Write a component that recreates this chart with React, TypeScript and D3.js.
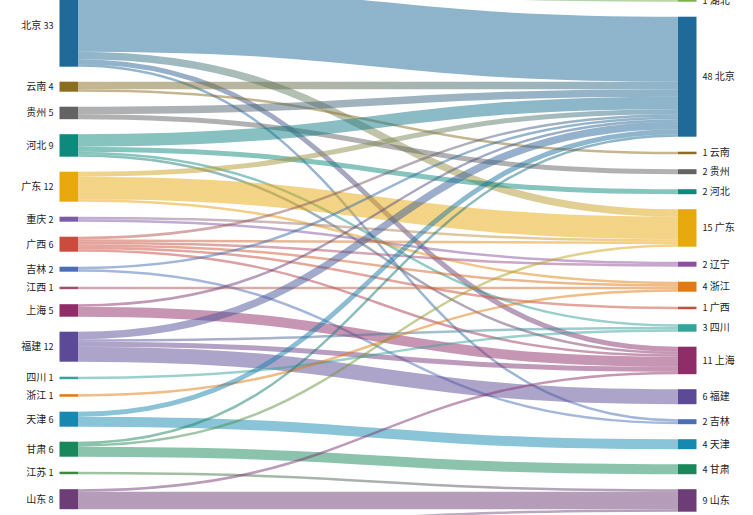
import React from 'react';
import * as d3 from 'd3';

// Left (source) column, top to bottom
const leftNodes = ['北京', '云南', '贵州', '河北', '广东', '重庆', '广西', '吉林', '江西', '上海', '福建', '四川', '浙江', '天津', '甘肃', '江苏', '山东', '河南'];
// Right (target) column, top to bottom
const rightNodes = ['湖北', '北京', '云南', '贵州', '河北', '广东', '辽宁', '浙江', '广西', '四川', '上海', '福建', '吉林', '天津', '甘肃', '山东'];

// Flows: [source, target, value]
const flows: [string, string, number][] = [
  ['北京', '湖北', 1], ['北京', '北京', 26], ['北京', '广东', 3], ['北京', '上海', 2], ['北京', '吉林', 1],
  ['云南', '北京', 3], ['云南', '云南', 1],
  ['贵州', '北京', 3], ['贵州', '贵州', 2],
  ['河北', '北京', 5], ['河北', '河北', 2], ['河北', '四川', 1], ['河北', '上海', 1],
  ['广东', '北京', 2], ['广东', '广东', 9], ['广东', '浙江', 1],
  ['重庆', '广东', 1], ['重庆', '辽宁', 1],
  ['广西', '北京', 1], ['广西', '广东', 1], ['广西', '辽宁', 1], ['广西', '浙江', 1], ['广西', '广西', 1], ['广西', '上海', 1],
  ['吉林', '北京', 1], ['吉林', '吉林', 1],
  ['江西', '浙江', 1],
  ['上海', '北京', 1], ['上海', '上海', 4],
  ['福建', '北京', 3], ['福建', '四川', 1], ['福建', '上海', 2], ['福建', '福建', 6],
  ['四川', '四川', 1],
  ['浙江', '浙江', 1],
  ['天津', '北京', 2], ['天津', '天津', 4],
  ['甘肃', '北京', 1], ['甘肃', '广东', 1], ['甘肃', '甘肃', 4],
  ['江苏', '山东', 1],
  ['山东', '上海', 1], ['山东', '山东', 7],
  ['河南', '山东', 1],
];

const provinceColors: Record<string, string> = {
  '北京': '#1f6a98', '云南': '#8c6d1f', '贵州': '#636363', '河北': '#0e8a7d', '广东': '#e8a90e',
  '重庆': '#7c5ba6', '广西': '#c94c3c', '吉林': '#4a6fb5', '江西': '#9e4f6b', '上海': '#8f2d68',
  '福建': '#5c4a96', '四川': '#36a39b', '浙江': '#e07a10', '天津': '#1689b0', '甘肃': '#18875a',
  '江苏': '#3b8a3e', '山东': '#6c3d76', '湖北': '#78b04a', '辽宁': '#8d4f9f', '河南': '#8a8a9a',
};

const W = 753;
const H = 515;
const nodeWidth = 18.5;
const nodePadding = 15;
const ky = 2.5;
const leftX = 59.5;
const rightX = 678;
const leftTop = -15.8;
const rightTop = -0.8;

type N = { name: string; side: 'L' | 'R'; value: number; x0: number; x1: number; y0: number; y1: number };

function layoutColumn(names: string[], side: 'L' | 'R', top: number, x0: number): N[] {
  let y = top;
  return names.map((name) => {
    const value = d3.sum(flows.filter((f) => (side === 'L' ? f[0] : f[1]) === name), (f) => f[2]);
    const n: N = { name, side, value, x0, x1: x0 + nodeWidth, y0: y, y1: y + value * ky };
    y = n.y1 + nodePadding;
    return n;
  });
}

export default function App() {
  const L = layoutColumn(leftNodes, 'L', leftTop, leftX);
  const R = layoutColumn(rightNodes, 'R', rightTop, rightX);
  const lIdx = new Map(L.map((n, i) => [n.name, i]));
  const rIdx = new Map(R.map((n, i) => [n.name, i]));

  const links = flows.map(([s, t, v], i) => ({ i, s: L[lIdx.get(s)!], t: R[rIdx.get(t)!], v, w: v * ky, sy: 0, ty: 0 }));
  // source offsets sorted by target position
  L.forEach((n) => {
    let y = n.y0;
    links.filter((l) => l.s === n).sort((a, b) => a.t.y0 - b.t.y0).forEach((l) => { l.sy = y + l.w / 2; y += l.w; });
  });
  R.forEach((n) => {
    let y = n.y0;
    links.filter((l) => l.t === n).sort((a, b) => a.s.y0 - b.s.y0).forEach((l) => { l.ty = y + l.w / 2; y += l.w; });
  });

  const linkGen = d3.linkHorizontal<any, [number, number]>().source((d: any) => d.source).target((d: any) => d.target);
  const font = '"Noto Sans CJK SC", "Noto Sans", sans-serif';
  const visible = (n: N) => n.y0 < H;

  return (
    <svg width={W} height={H} style={{ position: 'absolute', left: 0, top: 0, background: '#fff' }}>
      <defs>
        {links.map((l) => (
          <linearGradient key={l.i} id={`g${l.i}`} gradientUnits="userSpaceOnUse" x1={l.s.x1} x2={l.t.x0} y1={0} y2={0}>
            <stop offset="0%" stopColor={provinceColors[l.s.name]} />
            <stop offset="100%" stopColor={provinceColors[l.t.name]} />
          </linearGradient>
        ))}
      </defs>
      <g fill="none">
        {links.map((l) => (
          <path
            key={l.i}
            d={linkGen({ source: [l.s.x1, l.sy], target: [l.t.x0, l.ty] } as any) || ''}
            stroke={`url(#g${l.i})`}
            strokeOpacity={0.5}
            strokeWidth={Math.max(1, l.w)}
          />
        ))}
      </g>
      <g>
        {[...L, ...R].map((n) => (
          <rect key={n.side + n.name} x={n.x0} y={n.y0} width={n.x1 - n.x0} height={n.y1 - n.y0} fill={provinceColors[n.name]} />
        ))}
      </g>
      <g fontFamily={font} fontSize={10} fill="#222">
        {L.filter(visible).map((n) => (
          <text key={'tl' + n.name} x={n.x0 - 6} y={(n.y0 + n.y1) / 2} dy="0.35em" textAnchor="end">
            {n.name} <tspan fontSize={9}>{n.value}</tspan>
          </text>
        ))}
        {R.filter(visible).map((n) => (
          <text key={'tr' + n.name} x={n.x1 + 6} y={(n.y0 + n.y1) / 2} dy="0.35em" textAnchor="start">
            <tspan fontSize={9}>{n.value}</tspan> {n.name}
          </text>
        ))}
      </g>
    </svg>
  );
}
